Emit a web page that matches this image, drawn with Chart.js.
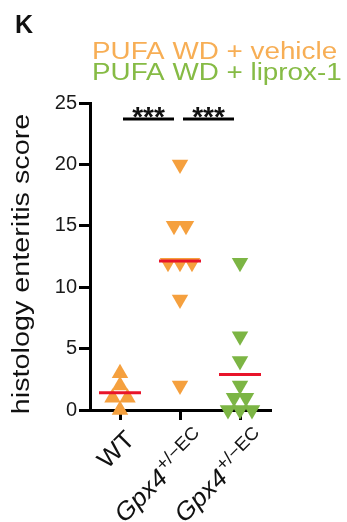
<!DOCTYPE html>
<html>
<head>
<meta charset="utf-8">
<script src="https://cdn.jsdelivr.net/npm/chart.js@4.4.0/dist/chart.umd.min.js"></script>
<style>
  html, body { margin: 0; padding: 0; background: #fff; }
  canvas { display: block; }
</style>
</head>
<body>
<canvas id="chart" width="347" height="522"></canvas>
<script>
// data
const categories = ['WT', 'Gpx4', 'Gpx4'];
const categorySup = ['', '+/\u2212EC', '+/\u2212EC'];
const wtScores = [3, 2, 1, 1, 0];
const vehicleScores = [20, 15, 15, 12, 12, 12, 9, 2];
const liproxScores = [12, 6, 4, 2, 1, 1, 0, 0, 0];
const yTicks = [0, 5, 10, 15, 20, 25];
const legendLines = ['PUFA WD + vehicle', 'PUFA WD + liprox-1'];
const comparisons = [[0, 1, '***'], [1, 2, '***']];
const comparisonLevel = 23.7;

const ORANGE = '#f5a03e';
const GREEN = '#7cb544';
const RED = '#e8142a';
const FONT = '"Liberation Sans", Arial, sans-serif';
const STRETCH = 1.21;

// spread equal values sideways so they don't sit on top of each other
function swarm(values, index, step) {
    const counts = {};
    values.forEach(v => counts[v] = (counts[v] || 0) + 1);
    const seen = {};
    return values.map(v => {
        const k = seen[v] || 0;
        seen[v] = k + 1;
        return { x: index + (k - (counts[v] - 1) / 2) * step, y: v };
    });
}

function mean(values) {
    return values.reduce((a, b) => a + b, 0) / values.length;
}

function stretchedText(ctx, text, x, y, sx) {
    ctx.save();
    ctx.translate(x, y);
    ctx.scale(sx, 1);
    ctx.fillText(text, 0, 0);
    ctx.restore();
}

const annotations = {
    id: 'annotations',
    afterDraw(chart) {
        const ctx = chart.ctx;
        const xs = chart.scales.x;
        const ys = chart.scales.y;
        ctx.save();

        // panel letter
        ctx.fillStyle = '#111';
        ctx.font = 'bold 25px ' + FONT;
        ctx.textBaseline = 'alphabetic';
        ctx.textAlign = 'left';
        ctx.fillText('K', 15, 33);

        // group legend
        ctx.font = '23px ' + FONT;
        ctx.fillStyle = '#f7ae55';
        stretchedText(ctx, legendLines[0], 92, 59, STRETCH);
        ctx.fillStyle = '#86bb45';
        stretchedText(ctx, legendLines[1], 92, 80, STRETCH);

        // y axis title
        ctx.save();
        ctx.translate(29, 264);
        ctx.rotate(-Math.PI / 2);
        ctx.font = '23px ' + FONT;
        ctx.fillStyle = '#111';
        ctx.textAlign = 'center';
        ctx.scale(1.25, 1);
        ctx.fillText('histology enteritis score', 0, 0);
        ctx.restore();

        // significance bars
        const yb = ys.getPixelForValue(comparisonLevel);
        comparisons.forEach(([a, b, txt]) => {
            const x1 = xs.getPixelForValue(a + 0.05);
            const x2 = xs.getPixelForValue(b - 0.1);
            ctx.strokeStyle = '#000';
            ctx.lineWidth = 3;
            ctx.beginPath();
            ctx.moveTo(x1, yb);
            ctx.lineTo(x2, yb);
            ctx.stroke();
            ctx.fillStyle = '#111';
            ctx.font = 'bold 28px ' + FONT;
            ctx.textAlign = 'center';
            ctx.fillText(txt, (x1 + x2) / 2, yb + 7);
        });

        // rotated category labels
        categories.forEach((name, i) => {
            const x = xs.getPixelForValue(i);
            ctx.save();
            ctx.translate(x + 16, xs.top + 31);
            ctx.rotate(-Math.PI / 4);
            ctx.scale(1.05, 1);
            ctx.fillStyle = '#111';
            ctx.textBaseline = 'alphabetic';
            ctx.textAlign = 'right';
            if (categorySup[i]) {
                ctx.translate(8, 8);
                ctx.font = '18px ' + FONT;
                ctx.fillText(categorySup[i], 0, -10);
                const offset = ctx.measureText(categorySup[i]).width + 1;
                ctx.font = 'italic 25px ' + FONT;
                ctx.fillText(name, -offset, 0);
            } else {
                ctx.font = '25px ' + FONT;
                ctx.fillText(name, 0, 0);
            }
            ctx.restore();
        });

        ctx.restore();
    }
};

const pointBase = {
    pointRadius: 9.5,
    pointHoverRadius: 9.5,
    pointBorderWidth: 0,
    showLine: false,
    clip: false,
    order: 1
};

new Chart(document.getElementById('chart'), {
    type: 'scatter',
    data: {
        datasets: [
            Object.assign({
                label: 'WT',
                data: swarm(wtScores, 0, 0.25),
                pointStyle: 'triangle',
                backgroundColor: ORANGE
            }, pointBase),
            Object.assign({
                label: 'vehicle',
                data: swarm(vehicleScores, 1, 0.2),
                pointStyle: 'triangle',
                rotation: 180,
                backgroundColor: ORANGE
            }, pointBase),
            Object.assign({
                label: 'liprox-1',
                data: swarm(liproxScores, 2, 0.2),
                pointStyle: 'triangle',
                rotation: 180,
                backgroundColor: GREEN
            }, pointBase),
            {
                label: 'mean',
                data: [wtScores, vehicleScores, liproxScores].map((v, i) => ({ x: i, y: mean(v) })),
                pointStyle: 'line',
                pointRadius: 21,
                pointHoverRadius: 21,
                pointBorderWidth: 3,
                borderColor: RED,
                backgroundColor: RED,
                showLine: false,
                clip: false,
                order: 0
            }
        ]
    },
    options: {
        responsive: false,
        animation: false,
        events: [],
        layout: { padding: { left: 0, right: 77, top: 103, bottom: 0 } },
        plugins: {
            legend: { display: false },
            tooltip: { enabled: false },
            title: { display: false }
        },
        scales: {
            x: {
                type: 'linear',
                min: -0.5,
                max: 2.5,
                afterBuildTicks: s => { s.ticks = categories.map((c, i) => ({ value: i })); },
                afterFit: s => { s.height = 112; },
                ticks: { display: false },
                grid: {
                    drawOnChartArea: false,
                    tickLength: 10,
                    lineWidth: 3,
                    color: '#000'
                },
                border: { display: true, width: 3, color: '#000' }
            },
            y: {
                min: 0,
                max: 25,
                afterBuildTicks: s => { s.ticks = yTicks.map(v => ({ value: v })); },
                afterFit: s => { s.width = 90; },
                ticks: {
                    font: { family: FONT, size: 20 },
                    color: '#1a1a1a',
                    padding: 2
                },
                grid: {
                    drawOnChartArea: false,
                    tickLength: 11,
                    lineWidth: 3,
                    color: '#000'
                },
                border: { display: true, width: 3, color: '#000' }
            }
        }
    },
    plugins: [annotations]
});
</script>
</body>
</html>
